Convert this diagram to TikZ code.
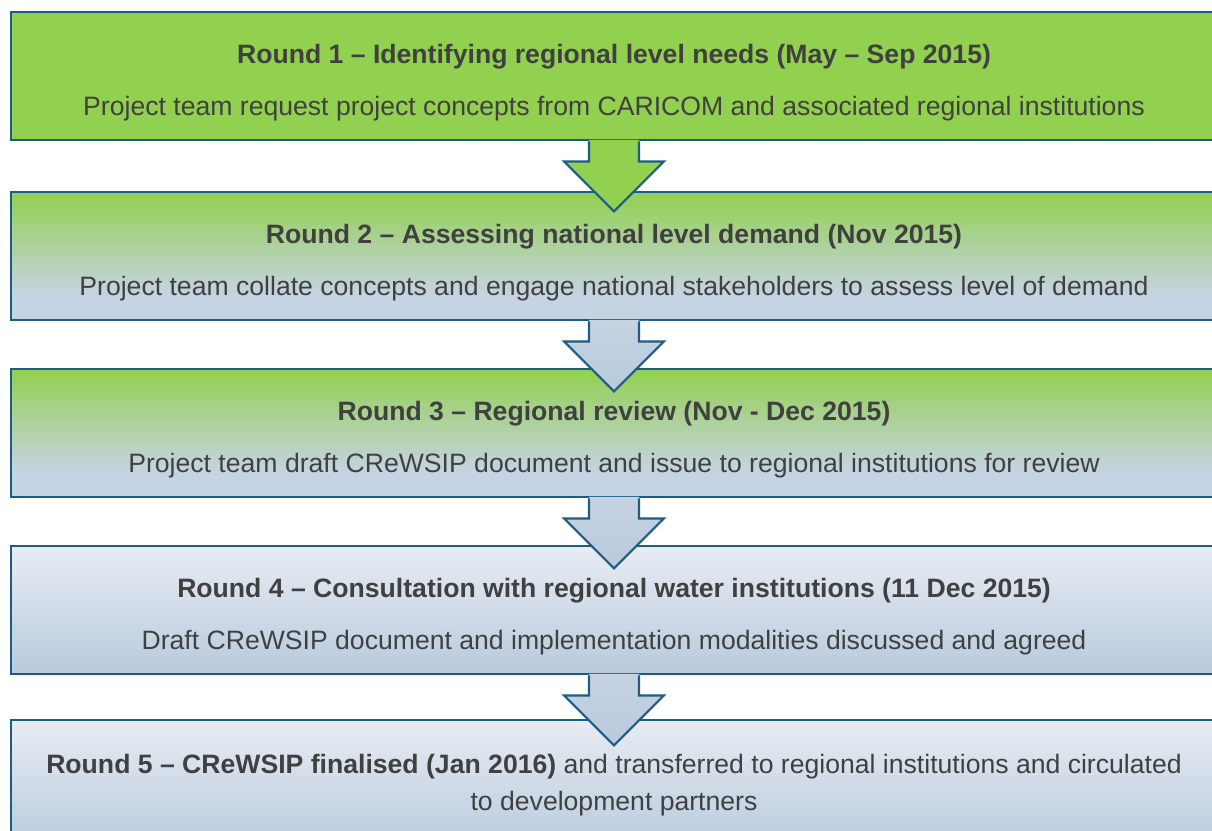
\documentclass[tikz,border=0pt]{standalone}
\usepackage{fontspec}
\setmainfont{Liberation Sans}
\usetikzlibrary{calc}
\definecolor{bordc}{HTML}{1F5C84}
\definecolor{grn}{HTML}{92D050}
\definecolor{blu}{HTML}{C6D3E2}
\definecolor{lite}{HTML}{E8ECF3}
\definecolor{dblu}{HTML}{B8CADD}
\definecolor{txt}{HTML}{404040}
\pgfdeclareverticalshading{gbshade}{100bp}{color(0bp)=(blu); color(25bp)=(blu); color(35bp)=(blu); color(75bp)=(grn); color(100bp)=(grn)}
\pgfdeclareverticalshading{lbshade}{100bp}{color(0bp)=(dblu); color(25bp)=(dblu); color(75bp)=(lite); color(100bp)=(lite)}
\pgfdeclareverticalshading{arshade}{100bp}{color(0bp)=(dblu); color(25bp)=(dblu); color(75bp)=(blu); color(100bp)=(blu)}
\tikzset{
  box/.style={draw=bordc, line width=2.4pt, minimum width=1220pt, minimum height=128pt, inner sep=0pt, anchor=north west},
  ttl/.style={font=\bfseries\fontsize{26.6}{32}\selectfont, text=txt, anchor=base, inner sep=0pt},
  body/.style={font=\fontsize{26.6}{32}\selectfont, text=txt, anchor=base, inner sep=0pt},
  arrowline/.style={draw=bordc, line width=2.2pt, line join=miter},
}
\newcommand{\flowarrow}[2]{%
  \path[#2] ($(#1)+(-25,-1.5)$) -- ($(#1)+(-25,20)$) -- ($(#1)+(-50,20)$) -- ($(#1)+(0,70)$) -- ($(#1)+(50,20)$) -- ($(#1)+(25,20)$) -- ($(#1)+(25,-1.5)$) -- cycle;
  \draw[arrowline] ($(#1)+(-25,0)$) -- ($(#1)+(-25,20)$) -- ($(#1)+(-50,20)$) -- ($(#1)+(0,70)$) -- ($(#1)+(50,20)$) -- ($(#1)+(25,20)$) -- ($(#1)+(25,0)$);
}
\begin{document}
\begin{tikzpicture}[x=1pt,y=-1pt]
\useasboundingbox (0,0) rectangle (1212,830);
\clip (0,0) rectangle (1212,830);
\fill[white] (0,0) rectangle (1212,830);
% boxes
\node[box, fill=grn] (b1) at (10,11) {};
\node[box, shade, shading=gbshade] (b2) at (10,191) {};
\node[box, shade, shading=gbshade] (b3) at (10,368) {};
\node[box, shade, shading=lbshade] (b4) at (10,545) {};
\node[box, shade, shading=lbshade] (b5) at (10,719) {};
% texts
\node[ttl] (t1) at (614,63) {Round 1 – Identifying regional level needs (May – Sep 2015)};
\node[body] (d1) at (614,115) {Project team request project concepts from CARICOM and associated regional institutions};
\node[ttl] (t2) at (614,243) {Round 2 – Assessing national level demand (Nov 2015)};
\node[body] (d2) at (614,295) {Project team collate concepts and engage national stakeholders to assess level of demand};
\node[ttl] (t3) at (614,420) {Round 3 – Regional review (Nov - Dec 2015)};
\node[body] (d3) at (614,472) {Project team draft CReWSIP document and issue to regional institutions for review};
\node[ttl] (t4) at (614,597) {Round 4 – Consultation with regional water institutions (11 Dec 2015)};
\node[body] (d4) at (614,649) {Draft CReWSIP document and implementation modalities discussed and agreed};
\node[body] (t5) at (614,773) {\textbf{Round 5 – CReWSIP finalised (Jan 2016)} and transferred to regional institutions and circulated};
\node[body] (d5) at (614,810) {to development partners};
% arrow roots: bottom edge of each box, below its text
\coordinate (c1) at (d1 |- b1.south);
\coordinate (c2) at (d2 |- b2.south);
\coordinate (c3) at (d3 |- b3.south);
\coordinate (c4) at (d4 |- b4.south);
% arrows
\flowarrow{c1}{fill=grn}
\flowarrow{c2}{shade, shading=arshade}
\flowarrow{c3}{shade, shading=arshade}
\flowarrow{c4}{shade, shading=arshade}
\end{tikzpicture}
\end{document}
